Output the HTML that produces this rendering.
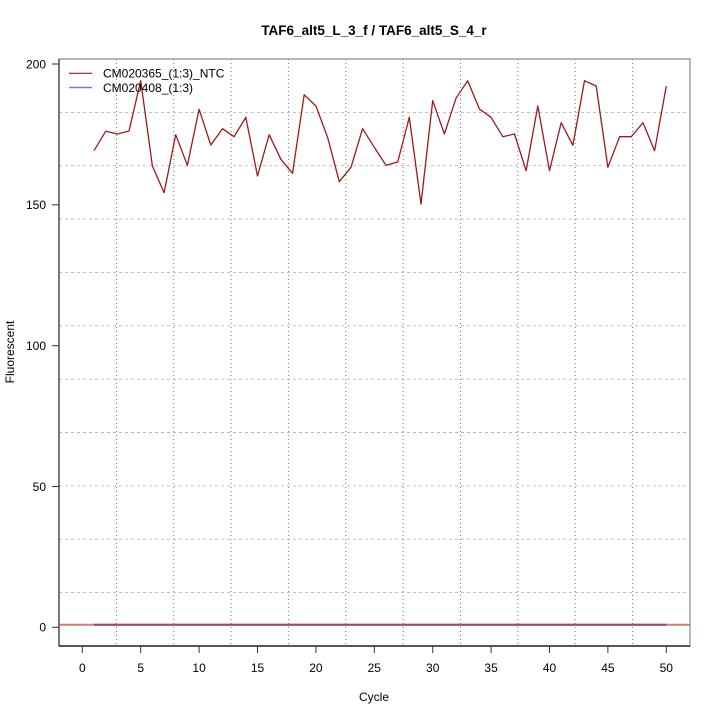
<!DOCTYPE html>
<html><head><meta charset="utf-8"><style>
html,body{margin:0;padding:0;background:#fff;}
svg{display:block;font-family:"Liberation Sans",Arial,sans-serif;}
</style></head><body>
<svg width="720" height="720" viewBox="0 0 720 720" xmlns="http://www.w3.org/2000/svg">
<rect width="720" height="720" fill="#fff"/>
<!-- grid horizontal -->
<g stroke="#b8b8b8" stroke-width="0.9" stroke-dasharray="3,3">
<line x1="59" y1="112.4" x2="690" y2="112.4"/>
<line x1="59" y1="165.7" x2="690" y2="165.7"/>
<line x1="59" y1="219.1" x2="690" y2="219.1"/>
<line x1="59" y1="272.4" x2="690" y2="272.4"/>
<line x1="59" y1="325.8" x2="690" y2="325.8"/>
<line x1="59" y1="379.2" x2="690" y2="379.2"/>
<line x1="59" y1="432.5" x2="690" y2="432.5"/>
<line x1="59" y1="485.9" x2="690" y2="485.9"/>
<line x1="59" y1="539.2" x2="690" y2="539.2"/>
<line x1="59" y1="592.6" x2="690" y2="592.6"/>
</g>
<g stroke="#777777" stroke-width="1" stroke-dasharray="1,3">
<line x1="116.4" y1="59" x2="116.4" y2="646"/>
<line x1="173.7" y1="59" x2="173.7" y2="646"/>
<line x1="231.1" y1="59" x2="231.1" y2="646"/>
<line x1="288.4" y1="59" x2="288.4" y2="646"/>
<line x1="345.8" y1="59" x2="345.8" y2="646"/>
<line x1="403.2" y1="59" x2="403.2" y2="646"/>
<line x1="460.5" y1="59" x2="460.5" y2="646"/>
<line x1="517.9" y1="59" x2="517.9" y2="646"/>
<line x1="575.2" y1="59" x2="575.2" y2="646"/>
<line x1="632.6" y1="59" x2="632.6" y2="646"/>
</g>
<!-- baseline -->
<line x1="59" y1="624.7" x2="690" y2="624.7" stroke="#d87878" stroke-width="2"/>
<line x1="94" y1="624.7" x2="666.3" y2="624.7" stroke="#a04a5c" stroke-width="2"/>
<!-- series -->
<polyline fill="none" stroke="#9e1a1a" stroke-width="1.3" stroke-linejoin="round" points="94.0,150.7 105.7,131.3 117.3,134 129.0,131 140.7,80.7 152.4,166 164.1,192.7 175.7,134.7 187.4,165.3 199.1,109.3 210.8,145 222.5,128.7 234.1,136.7 245.8,117.3 257.5,176 269.2,134.7 280.9,159.3 292.5,173.3 304.2,94.7 315.9,106 327.6,137.3 339.3,181.7 351.0,167.3 362.6,128.7 374.3,147.3 386.0,165.3 397.7,162 409.3,117.3 421.0,204 432.7,100.7 444.4,134 456.0,98.3 467.7,80.7 479.4,109 491.0,117.3 502.8,136.7 514.5,134 526.1,170.7 537.8,106 549.5,170.7 561.2,122.7 572.9,145.3 584.5,80.7 596.2,86 607.9,167.3 619.6,136.7 631.3,136.7 643.0,122.7 654.6,150.7 666.3,86"/>
<!-- box -->
<rect x="59" y="59" width="631" height="587" fill="none" stroke="#888" stroke-width="1.2"/>
<line x1="59" y1="59" x2="59" y2="646" stroke="#555" stroke-width="1.5"/>
<line x1="59" y1="646" x2="690" y2="646" stroke="#000" stroke-width="1.2"/>
<!-- y ticks -->
<g stroke="#333" stroke-width="1">
<line x1="52" y1="64" x2="59" y2="64"/>
<line x1="52" y1="204.8" x2="59" y2="204.8"/>
<line x1="52" y1="345.7" x2="59" y2="345.7"/>
<line x1="52" y1="486.5" x2="59" y2="486.5"/>
<line x1="52" y1="627.3" x2="59" y2="627.3"/>
</g>
<g font-size="12" fill="#000" text-anchor="end">
<text x="46" y="68.3">200</text>
<text x="46" y="209.1">150</text>
<text x="46" y="350">100</text>
<text x="46" y="490.8">50</text>
<text x="46" y="631.6">0</text>
</g>
<!-- x ticks -->
<g stroke="#333" stroke-width="1">
<line x1="82.3" y1="646" x2="82.3" y2="653"/>
<line x1="140.7" y1="646" x2="140.7" y2="653"/>
<line x1="199.1" y1="646" x2="199.1" y2="653"/>
<line x1="257.5" y1="646" x2="257.5" y2="653"/>
<line x1="315.9" y1="646" x2="315.9" y2="653"/>
<line x1="374.3" y1="646" x2="374.3" y2="653"/>
<line x1="432.7" y1="646" x2="432.7" y2="653"/>
<line x1="491.1" y1="646" x2="491.1" y2="653"/>
<line x1="549.5" y1="646" x2="549.5" y2="653"/>
<line x1="607.9" y1="646" x2="607.9" y2="653"/>
<line x1="666.3" y1="646" x2="666.3" y2="653"/>
</g>
<g font-size="12" fill="#000" text-anchor="middle">
<text x="82.3" y="672">0</text>
<text x="140.7" y="672">5</text>
<text x="199.1" y="672">10</text>
<text x="257.5" y="672">15</text>
<text x="315.9" y="672">20</text>
<text x="374.3" y="672">25</text>
<text x="432.7" y="672">30</text>
<text x="491.1" y="672">35</text>
<text x="549.5" y="672">40</text>
<text x="607.9" y="672">45</text>
<text x="666.3" y="672">50</text>
</g>
<!-- labels -->
<text x="374" y="701" font-size="12" text-anchor="middle">Cycle</text>
<text transform="translate(14,352) rotate(-90)" font-size="12" text-anchor="middle">Fluorescent</text>
<text x="374" y="35" font-size="13.5" font-weight="bold" text-anchor="middle">TAF6_alt5_L_3_f / TAF6_alt5_S_4_r</text>
<!-- legend -->
<line x1="69" y1="73.3" x2="92" y2="73.3" stroke="#9e1a1a" stroke-width="1.2"/>
<line x1="69" y1="87.5" x2="92" y2="87.5" stroke="#7a7ad0" stroke-width="1.5"/>
<text x="103" y="77.5" font-size="12">CM020365_(1:3)_NTC</text>
<text x="103" y="92" font-size="12">CM020408_(1:3)</text>
</svg>
</body></html>
